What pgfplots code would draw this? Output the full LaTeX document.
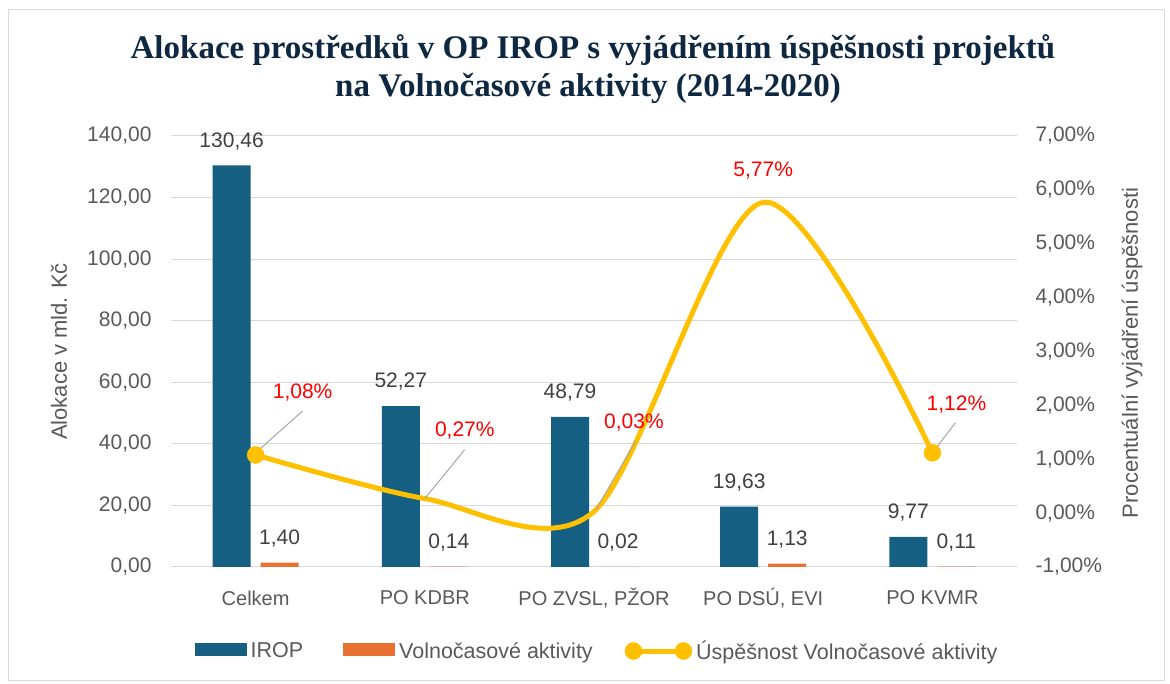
\documentclass[border=0pt]{standalone}
\usepackage{pgfplots}
\usepackage{pgfplotstable}
\pgfplotsset{compat=1.18}
\usepackage{fontspec}
\setmainfont{Liberation Sans}
\newfontfamily\titlefont{Liberation Serif}
\definecolor{irop}{HTML}{156082}
\definecolor{volno}{HTML}{E97132}
\definecolor{uspech}{HTML}{FFC000}
\definecolor{titlec}{HTML}{0E2841}
\definecolor{txt}{HTML}{595959}
\definecolor{lbl}{HTML}{404040}
\definecolor{gridc}{HTML}{D9D9D9}
\definecolor{leader}{HTML}{A6A6A6}
\definecolor{redlbl}{HTML}{FF0000}

\pgfplotstableread{
x irop volno usp
0 130.46 1.40 1.08
1 52.27 0.14 0.27
2 48.79 0.02 0.03
3 19.63 1.13 5.77
4 9.77 0.11 1.12
}\data

\newcommand{\fs}[1]{\fontsize{#1}{#1}\selectfont}

\begin{document}
\begin{tikzpicture}
\useasboundingbox (0,0) rectangle (1170bp,684bp);
\draw[gridc, line width=1bp] (8bp,3bp) rectangle (1164bp,674bp);
\node[anchor=base, text=titlec, font=\titlefont\bfseries\fs{33bp}, inner sep=0pt] at (593bp,625bp) {Alokace prostředků v OP IROP s vyjádřením úspěšnosti projektů};
\node[anchor=base, text=titlec, font=\titlefont\bfseries\fs{33bp}, inner sep=0pt] at (588bp,587bp) {na Volnočasové aktivity (2014-2020)};

\begin{axis}[
  at={(171bp,117bp)}, anchor=south west,
  scale only axis, width=846bp, height=431bp,
  xmin=-0.5, xmax=4.5, ymin=0, ymax=140,
  ytick={0,20,...,140},
  xtick=data,
  xticklabels={Celkem, PO KDBR, {PO ZVSL, PŽOR}, {PO DSÚ, EVI}, PO KVMR},
  ymajorgrids, grid style={gridc, line width=1bp},
  axis line style={draw=none},
  major tick length=0pt,
  ybar=10bp, bar width=38bp,
  /pgf/number format/assume math mode=true,
  yticklabel style={/pgf/number format/fixed, /pgf/number format/fixed zerofill, /pgf/number format/precision=2, /pgf/number format/use comma, font=\fs{21bp}, text=txt, xshift=-16bp},
  xticklabel style={font=\fs{20bp}, text=txt, anchor=center, yshift=-31bp},
  ylabel={Alokace v mld. Kč},
  ylabel style={at={(axis description cs:-0.1324,0.5)}, anchor=center, font=\fs{22bp}, text=txt},
  legend columns=3,
  legend style={at={(axis description cs:0.5047,-0.1949)}, anchor=center, draw=none, fill=none,
    font=\fs{21.5bp}, text=txt, nodes={inner sep=4bp},
    /tikz/column 2/.style={column sep=36bp}, /tikz/column 4/.style={column sep=28bp}},
  legend cell align=left,
  nodes near coords={\pgfmathprintnumber[fixed,fixed zerofill,precision=2,use comma,assume math mode=true]{\pgfplotspointmeta}},
  every node near coord/.append style={font=\fs{21bp}, text=lbl, yshift=12bp},
]
\addplot[fill=irop, draw=none,
  legend image code/.code={\fill[irop] (0bp,-5bp) rectangle (52bp,8bp);}]
  table[x=x,y=irop]{\data};
\addlegendentry{IROP}
\addplot[fill=volno, draw=none,
  legend image code/.code={\fill[volno] (0bp,-5bp) rectangle (52bp,8bp);}]
  table[x=x,y=volno]{\data};
\addlegendentry{Volnočasové aktivity}
\addlegendimage{legend image code/.code={\draw[uspech, line width=5bp] (0bp,0bp) -- (50bp,0bp); \fill[uspech] (0bp,0bp) circle (8.5bp) (50bp,0bp) circle (8.5bp);}}
\addlegendentry{Úspěšnost Volnočasové aktivity}
\end{axis}

\begin{axis}[
  at={(171bp,117bp)}, anchor=south west,
  scale only axis, width=846bp, height=431bp,
  xmin=-0.5, xmax=4.5, ymin=-1, ymax=7,
  ytick={-1,0,...,7},
  axis x line=none, axis y line*=right,
  axis line style={draw=none},
  major tick length=0pt,
  clip=false,
  /pgf/number format/assume math mode=true,
  yticklabel={\pgfmathprintnumber[fixed,fixed zerofill,precision=2,use comma]{\tick}\%},
  yticklabel style={font=\fs{21bp}, text=txt, xshift=15bp},
  ylabel={Procentuální vyjádření úspěšnosti},
  ylabel style={at={(axis description cs:1.1359,0.4965)}, anchor=center, font=\fs{22bp}, text=txt},
]
\addplot[smooth, uspech, line width=5bp, no markers] table[x=x,y=usp]{\data};
\addplot[only marks, mark=*, mark size=8.5bp, color=uspech, mark options={fill=uspech, draw=uspech},
  skip coords between index={1}{4}] table[x=x,y=usp]{\data};
% leader lines
\draw[leader, line width=1bp] ([shift={(1bp,3bp)}]axis cs:0,1.08) -- ([shift={(47bp,44bp)}]axis cs:0,1.08);
\draw[leader, line width=1bp] ([shift={(0bp,0bp)}]axis cs:1,0.27) -- ([shift={(40bp,49bp)}]axis cs:1,0.27);
\draw[leader, line width=1bp] ([shift={(2bp,2bp)}]axis cs:2,0.03) -- ([shift={(42bp,71bp)}]axis cs:2,0.03);
\draw[leader, line width=1bp] ([shift={(0bp,0bp)}]axis cs:4,1.12) -- ([shift={(23bp,30bp)}]axis cs:4,1.12);
% labels
\node[text=redlbl, font=\fs{21bp}, anchor=center] at ([shift={(47bp,62bp)}]axis cs:0,1.08) {1,08\%};
\node[text=redlbl, font=\fs{21bp}, anchor=center] at ([shift={(40bp,68bp)}]axis cs:1,0.27) {0,27\%};
\node[text=redlbl, font=\fs{21bp}, anchor=center] at ([shift={(40bp,89bp)}]axis cs:2,0.03) {0,03\%};
\node[text=redlbl, font=\fs{21bp}, anchor=center] at ([shift={(0bp,32bp)}]axis cs:3,5.77) {5,77\%};
\node[text=redlbl, font=\fs{21bp}, anchor=center] at ([shift={(24bp,48bp)}]axis cs:4,1.12) {1,12\%};
\end{axis}
\end{tikzpicture}
\end{document}
